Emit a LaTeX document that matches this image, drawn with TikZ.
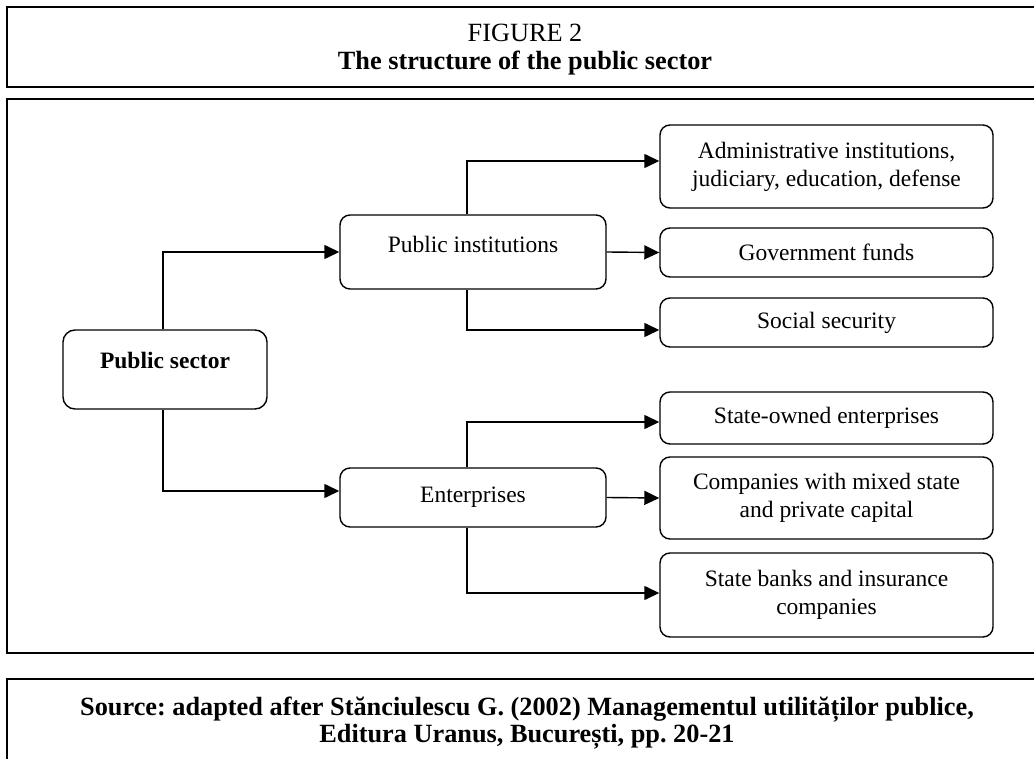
\documentclass[tikz,border=0pt]{standalone}
\usepackage{fontspec}
\setmainfont{Liberation Serif}
\usetikzlibrary{arrows.meta}
\frenchspacing
\begin{document}
\begin{tikzpicture}[x=1pt,y=-1pt,
  box/.style={draw,line width=1.4pt,rounded corners=10pt,inner sep=0pt,align=center,
    font=\fontsize{23.5}{28}\selectfont},
  txt/.style={inner sep=0pt,align=center,font=\fontsize{23.5}{28}\selectfont},
  bigtxt/.style={inner sep=0pt,anchor=base,font=\fontsize{26.3}{27}\selectfont},
  frame/.style={line width=2pt},
  conn/.style={line width=1.4pt,-{Triangle[length=15pt,width=14pt]}}]
\useasboundingbox (0,0) rectangle (1034,759);
% frames
\draw[frame] (1040,7) -- (7,7) -- (7,87) -- (1040,87);
\draw[frame] (1040,99) -- (7,99) -- (7,653) -- (1040,653);
\draw[frame] (1040,679) -- (7,679) -- (7,765);
\node[bigtxt] (t1) at (525,42) {FIGURE 2};
\node[bigtxt,font=\fontsize{26.3}{27}\selectfont\bfseries] (t2) at (525,70) {The structure of the public sector};
\node[bigtxt,font=\fontsize{26.3}{27}\selectfont\bfseries] (src1) at (527,715)
  {Source: adapted after Stănciulescu G. (2002) Managementul utilităților publice,};
\node[bigtxt,font=\fontsize{26.3}{27}\selectfont\bfseries] (src2) at (527,742)
  {Editura Uranus, București, pp. 20-21};
% boxes
\node[box,minimum width=204pt,minimum height=79pt,rounded corners=12pt] (ps) at (165,369.5) {};
\node[txt,font=\fontsize{23.5}{28}\selectfont\bfseries] (pst) at (165,360) {Public sector};
\node[box,minimum width=266pt,minimum height=74pt] (pi) at (473,252) {};
\node[txt] (pit) at (473,244) {Public institutions};
\node[box,minimum width=266pt,minimum height=59pt] (ent) at (473,497.5) {Enterprises};
\node[box,minimum width=333pt,minimum height=83pt] (adm) at (826.5,166.5) {Administrative institutions,\\judiciary, education, defense};
\node[box,minimum width=333pt,minimum height=49pt] (gov) at (826.5,252.5) {Government funds};
\node[box,minimum width=333pt,minimum height=49pt] (soc) at (826.5,322.5) {Social security};
\node[box,minimum width=333pt,minimum height=52pt] (soe) at (826.5,418) {State-owned enterprises};
\node[box,minimum width=333pt,minimum height=82pt] (mix) at (826.5,498) {Companies with mixed state\\and private capital};
\node[box,minimum width=333pt,minimum height=84pt] (bank) at (826.5,595) {State banks and insurance\\companies};
% connectors
\draw[conn] ([xshift=-2pt]ps.north) |- (pi.west);
\draw[conn] ([xshift=-2pt]ps.south) |- ([yshift=6.5pt]ent.west);
\draw[conn] ([xshift=-6pt]pi.north) |- ([yshift=5.5pt]adm.west);
\draw[conn] (pi.east) -- (gov.west);
\draw[conn] ([xshift=-6pt]pi.south) |- ([yshift=-7.5pt]soc.west);
\draw[conn] ([xshift=-6pt]ent.north) |- ([yshift=-4pt]soe.west);
\draw[conn] (ent.east) -- (mix.west);
\draw[conn] ([xshift=-6pt]ent.south) |- ([yshift=2pt]bank.west);
\end{tikzpicture}
\end{document}
